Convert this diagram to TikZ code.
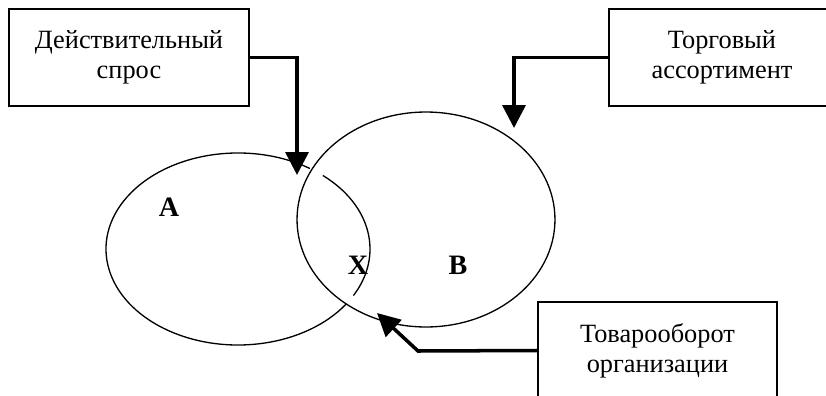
\documentclass[tikz,border=0pt]{standalone}
\usepackage{fontspec}
\setmainfont{Liberation Serif}
\usetikzlibrary{shapes.geometric,arrows.meta,positioning,calc}

\begin{document}
\begin{tikzpicture}[
  x=0.02cm,y=-0.02cm,
  box/.style={rectangle,draw,line width=0.8pt,align=center,inner sep=0pt,
    minimum height=1.94cm,font=\fontsize{15}{17}\selectfont},
  oval/.style={ellipse,inner sep=0pt,outer sep=0pt},
  lbl/.style={font=\fontsize{16}{18}\selectfont\bfseries},
  arrow/.style={-{Triangle[length=13pt,width=13pt]},line width=2pt}
]
\useasboundingbox (0,0) rectangle (826,396);
\clip (0,0) rectangle (826,396);

\node[box,minimum width=4.8cm]  (spros)  at (129,57.5)  {Действительный\\ спрос};
\node[box,minimum width=4.52cm] (assort) at (722,57.5)  {Торговый\\ ассортимент};
\node[box,minimum width=4.78cm] (oborot) at (657.5,350.5) {Товарооборот\\ организации};

% sets
\node[oval,minimum width=5.28cm,minimum height=3.84cm] (setA) at (238,249) {};
\node[oval,draw,line width=0.75pt,minimum width=5.16cm,minimum height=4.3cm] (setB) at (426,219.5) {};
\draw[line width=0.75pt] (setA.center) ++(-57:132 and 96)
  arc[start angle=-57,end angle=-325,x radius=132,y radius=96];
\draw[line width=0.75pt] (setA.center) ++(-50:132 and 96)
  arc[start angle=-50,end angle=29,x radius=132,y radius=96];

\node[lbl] (la) at (169,207) {A};
\node[lbl] (lx) at (358,265) {X};
\node[lbl] (lb) at (458,265) {B};

\coordinate (tipA) at (297,175);
\coordinate (tipB) at (514,128);
\coordinate (bend) at (418,351);
\coordinate (tipC) at (377,313);
\draw[arrow] (spros.east) -| (tipA);
\draw[arrow] (assort.west) -| (tipB);
\draw[arrow] (oborot.west) -- (bend) -- (tipC);
\end{tikzpicture}
\end{document}
